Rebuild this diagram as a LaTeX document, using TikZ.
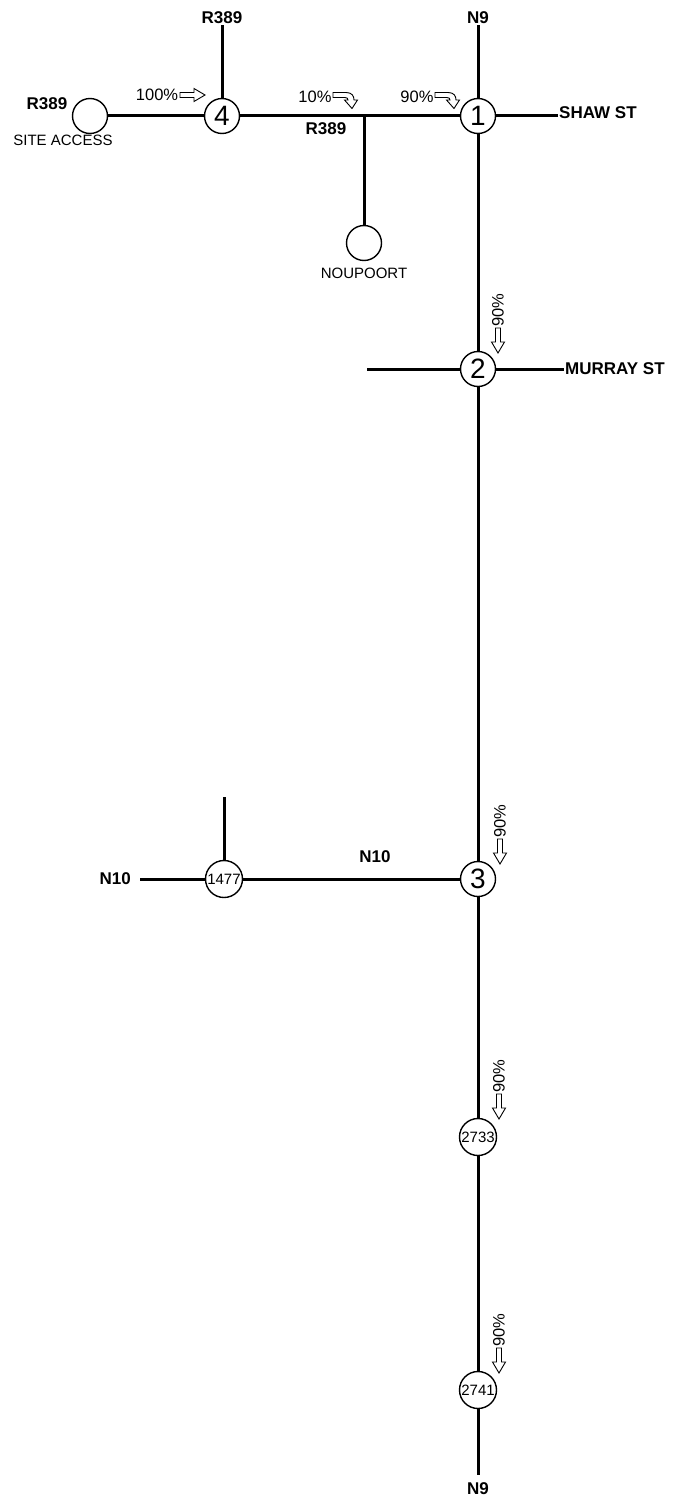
\documentclass[tikz,border=0pt]{standalone}
\usepackage{fontspec}
\setmainfont{Liberation Sans}
\usetikzlibrary{positioning}

\tikzset{
  road/.style={line width=3pt},
  junc/.style={circle,draw,line width=1.4pt,minimum size=35pt,inner sep=0pt,fill=white,font=\fontsize{28}{28}\selectfont},
  cntnode/.style={junc,minimum size=37pt,font=\fontsize{15}{15}\selectfont},
  zone/.style={circle,draw,line width=1.4pt,minimum size=35pt,inner sep=0pt},
  rdname/.style={font=\bfseries\fontsize{17}{17}\selectfont,inner sep=1pt},
  smalltxt/.style={font=\fontsize{15}{15}\selectfont,inner sep=1pt},
  pct/.style={font=\fontsize{16.5}{16.5}\selectfont,inner sep=0pt},
  pics/flowarrow/.style={code={
    \draw[line width=0.9pt,fill=white] (0,-2.5) -- (14,-2.5) -- (14,-6.5) -- (25,0) -- (14,6.5) -- (14,2.5) -- (0,2.5) -- cycle;}},
  pics/turnarrow/.style={code={
    \draw[line width=0.9pt,fill=white] (0,-2.5) -- (13,-2.5) .. controls (19,-2.5) and (21,1) .. (21,5) -- (24.5,5) -- (19,13.5) -- (11.5,5) -- (15,5) .. controls (15,3.5) and (14,2.5) .. (12,2.5) -- (0,2.5) -- cycle;}}
}

\begin{document}
\begin{tikzpicture}[x=1pt,y=-1pt]
  \useasboundingbox (0,0) rectangle (686,1501);
  % junctions and count points
  \node[junc] (j1) at (478,116) {1};
  \node[junc] (j2) at (478,369) {2};
  \node[junc] (j3) at (478,879) {3};
  \node[junc] (j4) at (222,116) {4};
  \node[cntnode] (c1477) at (224,879) {1477};
  \node[cntnode] (c2733) at (478,1137) {2733};
  \node[cntnode] (c2741) at (478,1390) {2741};
  \node[zone] (site) at (90,116) {};
  \node[zone] (noup) at (364,243) {};
  % road names
  \node[rdname] (n9top) at (478,18) {N9};
  \node[rdname] (r389top) at (222,18) {R389};
  \node[rdname,anchor=west] (shaw) at (558,113) {SHAW ST};
  \node[rdname,anchor=west] (murray) at (564,369) {MURRAY ST};
  \node[rdname,anchor=east] (n10w) at (132,879) {N10};
  \node[rdname] (n10) at (375,857) {N10};
  \node[rdname] (n9bot) at (478,1489) {N9};
  \node[rdname] (r389site) at (47,104) {R389};
  \node[rdname] (r389) at (326,129) {R389};
  \node[smalltxt] (siteacc) at (63,140) {SITE ACCESS};
  \node[smalltxt] (nouptxt) at (364,273) {NOUPOORT};
  \coordinate (tee) at (364,116);
  \coordinate (murrayw) at (367,369);
  \coordinate (stub1477) at (224,797);
  \coordinate (n10end) at (140,879);
  \coordinate (bot) at (478,1475);
  % roads
  \draw[road] (n9top) -- (j1);
  \draw[road] (j1) -- (j1 -| shaw.west);
  \draw[road] (j1) -- (j2);
  \draw[road] (j2) -- (j2 -| murray.west);
  \draw[road] (murrayw) -- (j2);
  \draw[road] (j2) -- (j3);
  \draw[road] (j3) -- (c2733);
  \draw[road] (c2733) -- (c2741);
  \draw[road] (c2741) -- (bot);
  \draw[road] (j3) -- (c1477);
  \draw[road] (c1477) -- (n10end);
  \draw[road] (stub1477) -- (c1477);
  \draw[road] (j4) -- (j1);
  \draw[road] (tee) -- (noup);
  \draw[road] (r389top) -- (j4);
  \draw[road] (site) -- (j4);
  % distribution
  \node[pct] (p100) at (157,95) {100\%};
  \node[pct] (p10) at (315,97) {10\%};
  \node[pct] (p90a) at (417,97) {90\%};
  \node[pct,rotate=90] (p90b) at (498,310) {90\%};
  \node[pct,rotate=90] (p90c) at (500,821) {90\%};
  \node[pct,rotate=90] (p90d) at (499,1076) {90\%};
  \node[pct,rotate=90] (p90e) at (499,1330) {90\%};
  \pic at (180,95) {flowarrow};
  \pic at (333,95) {turnarrow};
  \pic at (435,95) {turnarrow};
  \pic[rotate=-90] at (498,328) {flowarrow};
  \pic[rotate=-90] at (500,839) {flowarrow};
  \pic[rotate=-90] at (499,1094) {flowarrow};
  \pic[rotate=-90] at (499,1348) {flowarrow};
\end{tikzpicture}
\end{document}
